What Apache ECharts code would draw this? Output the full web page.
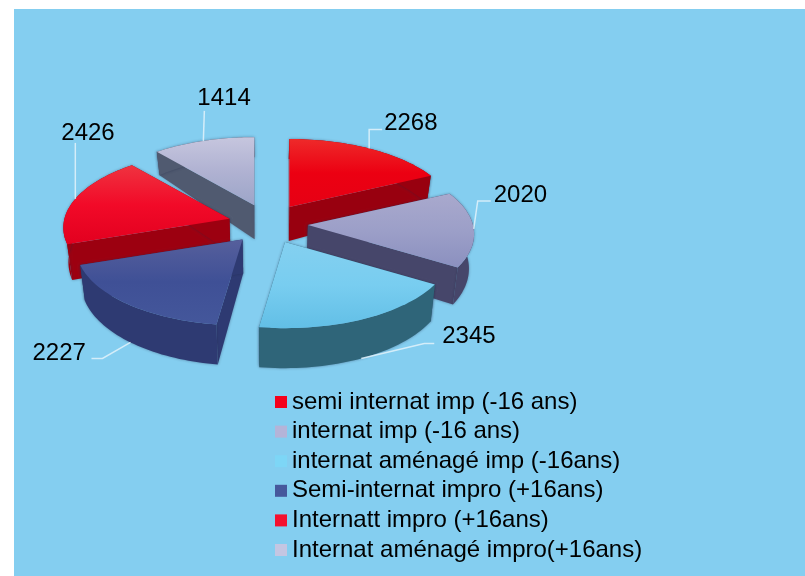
<!DOCTYPE html>
<html>
<head>
<meta charset="utf-8">
<style>
  html, body { margin: 0; padding: 0; background: #fff; }
  #chart { width: 805px; height: 576px; }
</style>
<script src="https://cdn.jsdelivr.net/npm/echarts@6/dist/echarts.min.js"></script>
</head>
<body>
<div id="chart"></div>
<script>
const categories = [
  'semi internat imp (-16 ans)',
  'internat imp (-16 ans)',
  'internat aménagé imp (-16ans)',
  'Semi-internat impro (+16ans)',
  'Internatt impro (+16ans)',
  'Internat aménagé impro(+16ans)'
];
const values = [2268, 2020, 2345, 2227, 2426, 1414];

// styles: top face stops, wall colour, legend swatch
const topStops = [
  ['#ee2a2a', '#ec0012', '#e60014'],
  ['#a9a9cd', '#9c9fc8', '#8b90bf'],
  ['#84d0f0', '#78cdf0', '#62bfe6'],
  ['#565f9c', '#3f5096', '#44579b'],
  ['#ef3340', '#f20a28', '#e2001f'],
  ['#c6c6de', '#b0b2d2', '#9ca5c8']
];
const wallColors = ['#98000f', '#46466a', '#2f6579', '#2e3a72', '#9c0010', '#505a70'];
const legendColors = ['#f5001a', '#b4b4d8', '#7dd6f6', '#46589c', '#f5102e', '#c4c6e2'];

// leader elbows and label offset, relative to the slice anchor
const leaderOffsets = [
  [[0, -19], [13, -19]],
  [[4, -28], [17, -28]],
  [[63, -15], [73, -15]],
  [[-28, 16], [-39, 16]],
  [[0, -56]],
  [[1, -30]]
];
const labelOffsets = [[15, -25], [20, -34], [81, -22], [-98, 11], [-14, -66], [-6, -43]];

const cx = 268, cy = 224, rx = 165, ry = 76, persp = 0.117, explode = 40;
const total = values.reduce((a, b) => a + b, 0);

function sliceAngles(i) {
  const before = values.slice(0, i).reduce((a, b) => a + b, 0);
  const start = before / total * Math.PI * 2;
  return { start: start, end: start + values[i] / total * Math.PI * 2 };
}

function edgePoint(apex, t) {
  const wy = Math.cos(t);
  const s = 1 / (1 + persp * wy);
  return [apex[0] + rx * Math.sin(t) * s, apex[1] - ry * wy * s];
}

// bottom of the wall under a point of the top face
function drop(p, wy) {
  const depth = 34 - (wy > 0 ? 14 * wy : 6 * wy);
  return [p[0] + (cx - p[0]) * 0.025, p[1] + depth];
}

function renderSlice(i, api) {
  const a = sliceAngles(i);
  const mid = (a.start + a.end) / 2;
  const apex = [cx + explode * Math.sin(mid), cy - explode * 0.5 * Math.cos(mid)];
  const steps = 40;
  const arc = [], arcBottom = [];
  for (let n = 0; n <= steps; n++) {
    const t = a.start + (a.end - a.start) * n / steps;
    const p = edgePoint(apex, t);
    arc.push(p);
    arcBottom.push(drop(p, Math.cos(t)));
  }
  const apexBottom = drop(apex, 0);
  const wall = wallColors[i];
  const wallStyle = { fill: wall, shadowBlur: 3, shadowColor: 'rgba(30,40,70,0.45)' };
  const children = [
    { type: 'polygon', shape: { points: [apex, arc[0], arcBottom[0], apexBottom] }, style: wallStyle },
    { type: 'polygon', shape: { points: [apex, arc[steps], arcBottom[steps], apexBottom] }, style: wallStyle },
    { type: 'polygon', shape: { points: arc.concat(arcBottom.slice().reverse()) }, style: wallStyle },
    {
      type: 'polygon',
      shape: { points: [apex].concat(arc) },
      style: {
        fill: new echarts.graphic.LinearGradient(0, 0, 0, 1, [
          { offset: 0, color: topStops[i][0] },
          { offset: 0.5, color: topStops[i][1] },
          { offset: 1, color: topStops[i][2] }
        ])
      }
    }
  ];

  // the near slices carry their leader from the foot of the wall
  const midPoint = edgePoint(apex, mid);
  const anchor = Math.cos(mid) < -0.5 ? drop(midPoint, Math.cos(mid)) : midPoint;
  const leader = [anchor].concat(leaderOffsets[i].map(o => [anchor[0] + o[0], anchor[1] + o[1]]));
  children.push({
    type: 'polyline',
    shape: { points: leader },
    style: { fill: 'none', stroke: 'rgba(226,242,250,0.85)', lineWidth: 1.5 }
  });
  children.push({
    type: 'text',
    style: {
      x: anchor[0] + labelOffsets[i][0],
      y: anchor[1] + labelOffsets[i][1],
      text: String(api.value(0)),
      fill: '#000',
      font: '24px "Liberation Sans", Arial, sans-serif',
      align: 'left',
      verticalAlign: 'middle'
    }
  });
  return { type: 'group', children: children };
}

// drawn far to near, the legend keeps the original order
const drawOrder = categories.map((c, i) => i).sort((p, q) => {
  const ap = sliceAngles(p), aq = sliceAngles(q);
  return Math.cos((aq.start + aq.end) / 2) - Math.cos((ap.start + ap.end) / 2);
});

const chart = echarts.init(document.getElementById('chart'), null, { renderer: 'canvas' });
chart.setOption({
  animation: false,
  backgroundColor: '#fff',
  graphic: [{
    type: 'rect',
    z: -1,
    shape: { x: 14, y: 9, width: 791, height: 567 },
    style: { fill: '#84cef0' }
  }],
  legend: {
    orient: 'vertical',
    left: 275,
    top: 390,
    padding: 0,
    itemWidth: 12,
    itemHeight: 12,
    itemGap: 5.6,
    icon: 'rect',
    data: categories,
    selectedMode: false,
    textStyle: {
      color: '#000',
      fontFamily: '"Liberation Sans", Arial, sans-serif',
      fontSize: 24,
      lineHeight: 24
    }
  },
  series: drawOrder.map(i => ({
    type: 'custom',
    name: categories[i],
    coordinateSystem: 'none',
    itemStyle: { color: legendColors[i] },
    data: [[values[i]]],
    renderItem: (params, api) => renderSlice(i, api)
  }))
});
</script>
</body>
</html>
